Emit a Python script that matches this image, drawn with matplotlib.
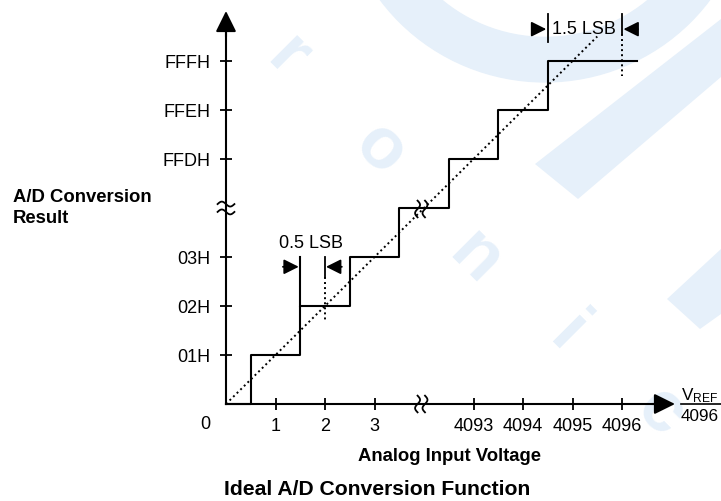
import numpy as np
import matplotlib.pyplot as plt
from matplotlib.patches import Wedge, Polygon

plt.rcParams['font.family'] = ['Liberation Sans', 'DejaVu Sans']
plt.rcParams['mathtext.fontset'] = 'custom'
plt.rcParams['mathtext.rm'] = 'Liberation Sans'

# staircase: code transitions (in LSB units, axis compressed at the break)
step_x = [0, 0.5, 1.5, 2.5, 3.5, 4.5, 5.5, 6.5, 8.3]
step_y = [0, 1, 2, 3, 4, 5, 6, 7, 7]
ideal_x = [0, 7.5]
ideal_y = [0, 7.5]

xtick_pos = [1, 2, 3, 5, 6, 7, 8]
xtick_labels = ['1', '2', '3', '4093', '4094', '4095', '4096']
ytick_pos = [1, 2, 3, 5, 6, 7]
ytick_labels = ['01H', '02H', '03H', 'FFDH', 'FFEH', 'FFFH']
break_at = 4

W, H = 721, 502
ox, oy = 226, 405          # origin in pixels
ux, uy = 49.5, 49.0        # pixels per unit

fig = plt.figure(figsize=(W / 100, H / 100), dpi=100)
ax = fig.add_axes([0, 0, 1, 1])
ax.set_xlim(-ox / ux, (W - ox) / ux)
ax.set_ylim((oy - H) / uy, oy / uy)

def px(x, y):
    return ((x - ox) / ux, (oy - y) / uy)

# faint watermark in the background
wm = '#e6f0fa'
cx, cy = px(545, -120)
ax.add_patch(Wedge((cx, cy), 205 / ux, 180, 360, width=45 / ux, color=wm, zorder=0))
ax.add_patch(Polygon([px(*p) for p in [(535, 165), (578, 200), (721, 78), (721, 20)]],
                     closed=True, color=wm, zorder=0, lw=0))
ax.add_patch(Polygon([px(*p) for p in [(721, 250), (667, 300), (700, 330), (721, 315)]],
                     closed=True, color=wm, zorder=0, lw=0))
for ch, (lx, ly) in zip('ronic', [(288, 58), (380, 150), (475, 258), (568, 335), (660, 412)]):
    ax.text(*px(lx, ly), ch, fontsize=52, fontweight='bold', color=wm, rotation=-45,
            ha='center', va='center', zorder=0)

# axes as spines through the origin
for s in ['top', 'right']:
    ax.spines[s].set_visible(False)
ax.spines['left'].set_position(('data', 0))
ax.spines['bottom'].set_position(('data', 0))
ax.spines['left'].set_bounds(0, 7.8)
ax.spines['bottom'].set_bounds(0, 8.8)
for s in ['left', 'bottom']:
    ax.spines[s].set_linewidth(1.5)

ax.set_xticks(xtick_pos, xtick_labels)
ax.set_yticks(ytick_pos, ytick_labels)
ax.tick_params(axis='both', direction='inout', length=9, width=1.3, labelsize=13)
ax.tick_params(axis='y', pad=7)
ax.tick_params(axis='x', pad=5)
ax.text(*px(205, 425), '0', fontsize=13, ha='center', va='center')

head = dict(arrowstyle='-|>,head_length=0.85,head_width=0.42', mutation_scale=15,
            lw=1.5, color='k', shrinkA=0, shrinkB=0)
ax.annotate('', xy=(0, (oy - 12) / uy), xytext=(0, 7.5), arrowprops=head)
ax.annotate('', xy=((675 - ox) / ux, 0), xytext=(8.6, 0), arrowprops=head)

# transfer function and ideal line
ax.step(step_x, step_y, where='post', color='k', lw=1.5, zorder=3)
ax.plot(ideal_x, ideal_y, color='k', lw=1.4, linestyle=(0, (1, 1.6)), zorder=3)

# break marks
t = np.linspace(0, 1, 40)
a = 0.05
for y0 in [break_at + 0.08, break_at - 0.08]:
    ax.plot(-0.17 + 0.34 * t, y0 + a * np.sin(2 * np.pi * t), color='k', lw=1.3, zorder=4)
for x0 in [break_at - 0.13, break_at + 0.02]:
    ax.plot(x0 - a * np.sin(2 * np.pi * t), -0.17 + 0.34 * t, color='k', lw=1.3, zorder=4)
    ax.plot(x0 - a * np.sin(2 * np.pi * t), break_at - 0.19 + 0.34 * t, color='k', lw=1.3, zorder=4)

# 0.5 LSB dimension
small = dict(arrowstyle='-|>,head_length=0.9,head_width=0.45', mutation_scale=10,
             lw=1.3, color='k', shrinkA=0, shrinkB=0)
ax.plot([1.5, 1.5], [2, 3.0], color='k', lw=1.5)
ax.plot([2, 2], [3.0, 2.6], color='k', lw=1.3)
ax.plot([2, 2], [2.6, 1.67], color='k', lw=1.4, linestyle=(0, (1, 1.6)))
ax.annotate('', xy=(1.47, 2.8), xytext=(1.15, 2.8), arrowprops=small)
ax.annotate('', xy=(2.02, 2.8), xytext=(2.34, 2.8), arrowprops=small)
ax.text(1.72, 3.29, '0.5 LSB', fontsize=13, ha='center', va='center')

# 1.5 LSB dimension
ax.plot([6.5, 6.5], [7.96, 7.39], color='k', lw=1.3)
ax.plot([8, 8], [7.96, 7.55], color='k', lw=1.3)
ax.plot([8, 8], [7.55, 6.69], color='k', lw=1.4, linestyle=(0, (1, 1.6)))
ax.annotate('', xy=(6.47, 7.65), xytext=(6.18, 7.65), arrowprops=small)
ax.annotate('', xy=(8.03, 7.65), xytext=(8.32, 7.65), arrowprops=small)
ax.text(7.23, 7.66, '1.5 LSB', fontsize=13, ha='center', va='center')

# VREF/4096 unit label
vx = (681 - ox) / ux
ax.text(vx, 0.1, r'$\mathregular{V_{REF}}$', fontsize=12.3, ha='left', va='baseline')
ax.plot([vx, 11], [0, 0], color='k', lw=1.2)
ax.text(vx, -0.08, '4096', fontsize=12.3, ha='left', va='top')

# labels
ax.text(*px(13, 208), 'A/D Conversion\nResult', fontsize=13.3, fontweight='bold',
        ha='left', va='center', linespacing=1.3)
ax.text(*px(450, 457), 'Analog Input Voltage', fontsize=13.3, fontweight='bold',
        ha='center', va='center')
ax.text(*px(377, 490), 'Ideal A/D Conversion Function', fontsize=15.2, fontweight='bold',
        ha='center', va='center')

fig.savefig('out.png', dpi=100)
